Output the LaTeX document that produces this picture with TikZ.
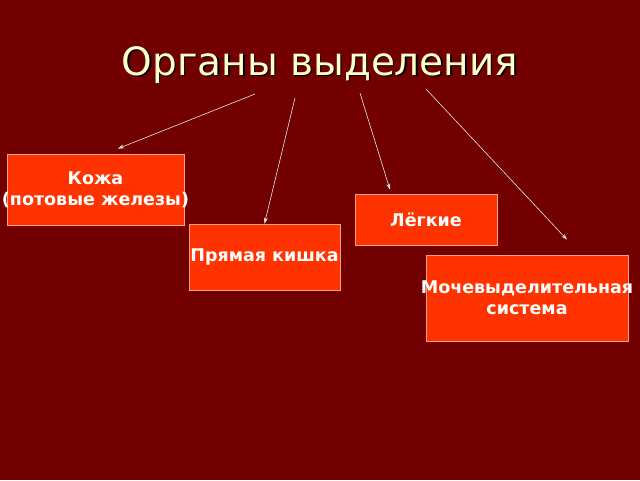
\documentclass[tikz,border=0pt]{standalone}
\usepackage{fontspec}
\setmainfont{DejaVu Sans}
\usetikzlibrary{arrows.meta, positioning}
\definecolor{bgred}{HTML}{720000}
\definecolor{boxred}{HTML}{FF3300}
\definecolor{boxline}{HTML}{FFA08A}
\definecolor{titleyellow}{HTML}{FFFFCC}
\definecolor{linkgrey}{HTML}{E6E6E6}
\newcommand{\wideline}[1]{\makebox[0pt]{#1}}

\begin{document}
\begin{tikzpicture}[
        x=1pt, y=-1pt,
        organ/.style={draw=boxline, fill=boxred, line width=0.8pt, inner sep=0pt, align=center, text=white, font=\bfseries\fontsize{17.5}{21}\selectfont},
        heading/.style={anchor=base, font=\fontsize{39}{44}\selectfont},
        link/.style={-{Stealth[length=6pt, width=4pt]}, draw=linkgrey, line width=0.6pt}
    ]

    % Background
    \fill[bgred] (0,0) rectangle (640,480);

    % Title
    \node[heading, text=black] (titleshadow) at (321.5,76.5) {Органы выделения};
    \node[heading, text=titleyellow] (title) at (320,75) {Органы выделения};

    % Nodes
    \node[organ, minimum width=177pt, minimum height=71pt] (skin) at (95.5,189.5) {Кожа\\\wideline{(потовые железы)}};
    \node[organ, minimum width=151pt, minimum height=66pt] (rectum) at (264.5,257) {\wideline{Прямая кишка}};
    \node[organ, minimum width=142pt, minimum height=51pt] (lungs) at (426,219.5) {Лёгкие};
    \node[organ, minimum width=202pt, minimum height=86pt] (urinary) at (527,298) {\wideline{Мочевыделительная}\\система};

    % Arrow ends
    \coordinate (s1) at (255,94);
    \coordinate (s2) at (295,98);
    \coordinate (s3) at (360,93);
    \coordinate (s4) at (426,89);
    \coordinate (e1) at ([shift={(22.5,-5)}]skin.north);
    \coordinate (e3) at ([shift={(-36,-4)}]lungs.north);
    \coordinate (e4) at ([shift={(40,-15)}]urinary.north);

    % Arrows
    \draw[link] (s1) -- (e1);
    \draw[link] (s2) -- (rectum.north);
    \draw[link] (s3) -- (e3);
    \draw[link] (s4) -- (e4);

\end{tikzpicture}
\end{document}
